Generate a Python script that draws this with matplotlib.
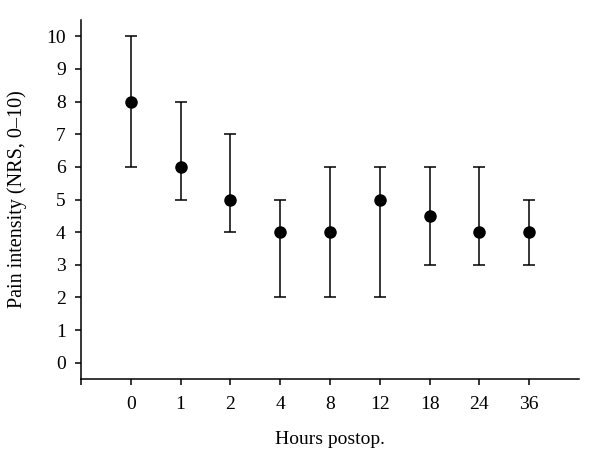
import matplotlib.pyplot as plt

plt.rcParams['font.family'] = ['Liberation Serif', 'DejaVu Serif']

hours = ["0", "1", "2", "4", "8", "12", "18", "24", "36"]
median = [8, 6, 5, 4, 4, 5, 4.5, 4, 4]
low = [6, 5, 4, 2, 2, 2, 3, 3, 3]
high = [10, 8, 7, 5, 6, 6, 6, 6, 5]

x = list(range(len(hours)))
err_lo = [m - l for m, l in zip(median, low)]
err_hi = [h - m for m, h in zip(median, high)]

fig = plt.figure(figsize=(6, 4.63), dpi=100)
ax = fig.add_axes([0.135, 0.1814, 0.83, 0.7754])

ax.errorbar(x, median, yerr=[err_lo, err_hi], fmt='o', color='black',
            ecolor='black', elinewidth=1.1, capsize=4.3, capthick=1.1,
            markersize=8)

ax.set_xlim(-1, 9)
ax.set_ylim(-0.5, 10.5)
ax.set_xticks([-1] + x)
ax.set_xticklabels([""] + hours)
ax.set_yticks(range(0, 11))

for s in ["top", "right"]:
    ax.spines[s].set_visible(False)
for s in ["left", "bottom"]:
    ax.spines[s].set_linewidth(1.1)

ax.tick_params(axis='both', direction='out', length=4, width=1.1,
               labelsize=14, colors='black')
ax.tick_params(axis='x', pad=8)
ax.tick_params(axis='y', pad=7)

ax.set_xlabel("Hours postop.", fontsize=14, labelpad=13)
ax.set_ylabel("Pain intensity (NRS, 0–10)", fontsize=14.5, labelpad=14)

fig.savefig("out.png", dpi=100)
